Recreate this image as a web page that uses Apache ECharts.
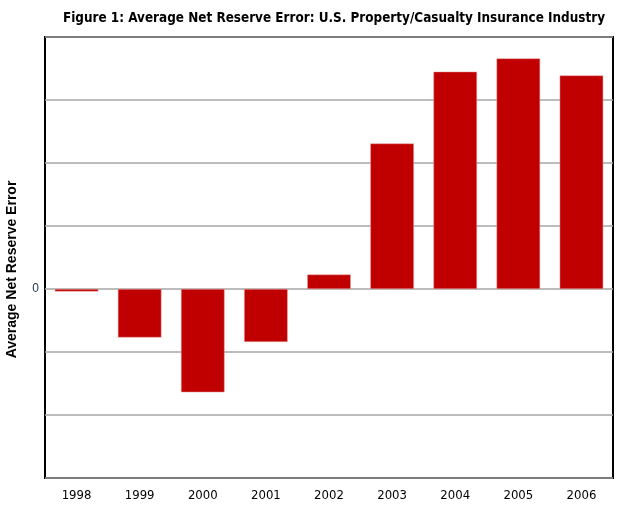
<!DOCTYPE html>
<html>
<head>
<meta charset="utf-8">
<script src="https://cdn.jsdelivr.net/npm/echarts@6/dist/echarts.min.js"></script>
<style>
html, body { margin: 0; padding: 0; background: #fff; }
#chart { width: 620px; height: 508px; }
</style>
</head>
<body>
<div id="chart"></div>
<script>
// years on the x axis
var years = ['1998', '1999', '2000', '2001', '2002', '2003', '2004', '2005', '2006'];
// net reserve error, in grid units (only the zero tick is labelled in the source)
var reserveError = [-0.04, -0.77, -1.64, -0.84, 0.23, 2.31, 3.45, 3.66, 3.39];
var yMin = -3, yMax = 4, yStep = 1;

var chart = echarts.init(document.getElementById('chart'));
chart.setOption({
    animation: false,
    title: {
        text: 'Figure 1: Average Net Reserve Error: U.S. Property/Casualty Insurance Industry',
        left: 329,
        textAlign: 'center',
        top: 7,
        textStyle: {
            fontFamily: "'DejaVu Sans Condensed', 'Liberation Sans', sans-serif",
            fontWeight: 'bold',
            fontSize: 13.4,
            color: '#000'
        }
    },
    grid: {
        left: 45,
        right: 7,
        top: 37,
        bottom: 30,
        outerBoundsMode: 'none',
        containLabel: false,
        show: true,
        borderColor: '#000',
        borderWidth: 2
    },
    xAxis: {
        type: 'category',
        data: years,
        axisLine: { show: false },
        axisTick: { show: false },
        axisLabel: {
            margin: 11,
            fontFamily: "'DejaVu Sans Condensed', 'Liberation Sans', sans-serif",
            fontSize: 13,
            color: '#000'
        }
    },
    yAxis: {
        type: 'value',
        min: yMin,
        max: yMax,
        interval: yStep,
        name: 'Average Net Reserve Error',
        nameLocation: 'middle',
        nameGap: 26,
        nameTextStyle: {
            fontFamily: 'Liberation Sans, Arial, sans-serif',
            fontWeight: 'bold',
            fontSize: 14,
            color: '#000',
            padding: [0, 24, 0, 0]
        },
        axisLine: { show: false },
        axisTick: { show: false },
        axisLabel: {
            margin: 6,
            fontFamily: 'Liberation Sans, Arial, sans-serif',
            fontSize: 12,
            color: '#1f2f45',
            formatter: function (v) { return v === 0 ? '0' : ''; }
        },
        splitLine: { lineStyle: { color: '#a6a6a6', width: 1.5 } }
    },
    series: [{
        type: 'bar',
        data: reserveError,
        barWidth: '69%',
        itemStyle: { color: '#c00000', borderColor: '#e8a0a0', borderWidth: 0.5 }
    }]
});
</script>
</body>
</html>
